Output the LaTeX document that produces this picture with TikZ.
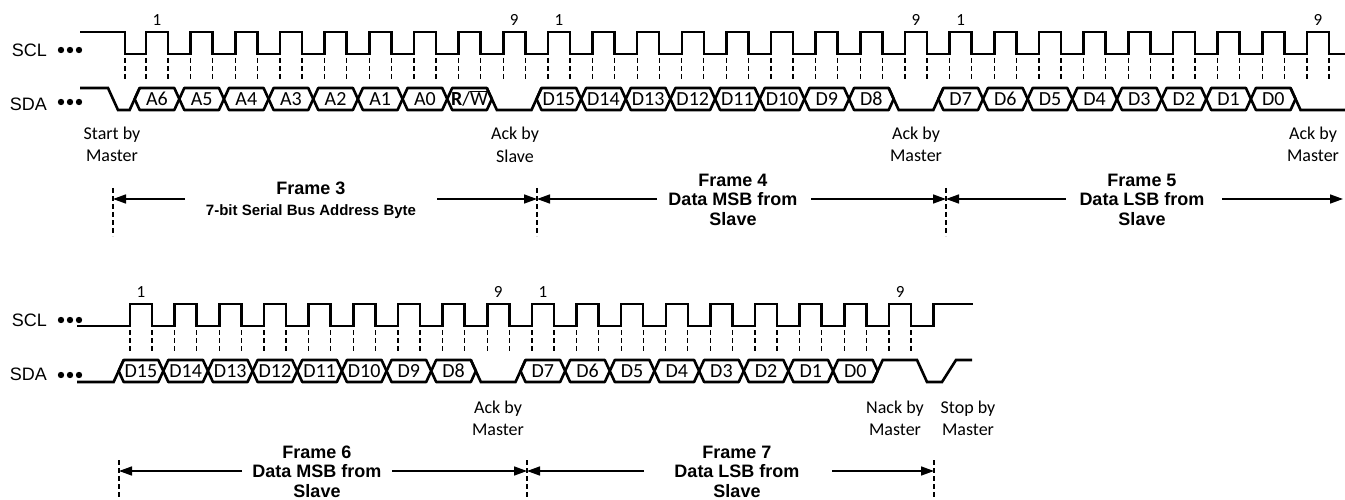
\documentclass[tikz,border=0pt]{standalone}
\usepackage{fontspec}
\setmainfont{Carlito}
\newfontfamily\arialf{Liberation Sans}
\usetikzlibrary{arrows.meta}
\newcommand\rwlabel{\textbf{R}/$\overline{\mbox{W}}$}
\begin{document}
\begin{tikzpicture}[x=1pt,y=-1pt,
  sig/.style={line width=2.6pt,line join=miter},
  hex/.style={line width=2.6pt,line join=round},
  tick/.style={line width=1.3pt,dash pattern=on 5pt off 3pt},
  fdash/.style={line width=1.2pt,dash pattern=on 5pt off 3pt},
  farrow/.style={line width=1.5pt,-{Triangle[length=13pt,width=9pt]}},
  bitlab/.style={font=\fontsize{20}{24}\selectfont,inner sep=0pt,text height=13pt,text depth=0pt},
  numlab/.style={font=\fontsize{17}{20}\selectfont,inner sep=0pt},
  siglab/.style={font=\arialf\fontsize{18}{21}\selectfont,inner sep=0pt,anchor=east},
  note/.style={font=\fontsize{18}{21}\selectfont,inner sep=0pt},
  ftitle/.style={font=\arialf\bfseries\fontsize{18}{21}\selectfont,inner sep=0pt},
  fsub/.style={font=\arialf\bfseries\fontsize{15}{18}\selectfont,inner sep=0pt},
]
\useasboundingbox (0,0) rectangle (1345,500);
\def\pd{44.65}

% ================= TOP ROW =================
\node[siglab] (sclA) at (47,50) {SCL};
\node[siglab] (sdaA) at (47,104) {SDA};
\foreach \x in {61,70,79} { \fill (\x,50) circle (3.2); \fill (\x,102) circle (3.2); }

% SCL
\draw[sig] (80,32) -- (125,32) -- (125,54)
  \foreach \n in {0,...,26} { -- ({146+\n*\pd},54) -- ({146+\n*\pd},32) -- ({168+\n*\pd},32) -- ({168+\n*\pd},54) } -- (1345,54);
% ticks
\draw[tick] (125,58) -- (125,80);
\foreach \n in {0,...,26} {
  \draw[tick] ({146+\n*\pd},58) -- ++(0,22);
  \draw[tick] ({168+\n*\pd},58) -- ++(0,22);
}
% pulse numbers
\foreach \n/\t [count=\i] in {0/1,8/9,9/1,17/9,18/1,26/9}
  \node[numlab] (numA\i) at ({157+\n*\pd},20) {\t};

% SDA
\draw[sig] (80,88) -- (108,88) -- (118,110) -- (129.65,110) -- (139.65,88);
\foreach \n/\t in {0/A6,1/A5,2/A4,3/A3,4/A2,5/A1,6/A0,7/\rwlabel,
    9/D15,10/D14,11/D13,12/D12,13/D11,14/D10,15/D9,16/D8,
    18/D7,19/D6,20/D5,21/D4,22/D3,23/D2,24/D1,25/D0} {
  \pgfmathsetmacro\a{134.65+\n*\pd}
  \pgfmathsetmacro\b{\a+\pd}
  \draw[hex] (\a,99) -- (\a+5,88) -- (\b-5,88) -- (\b,99) -- (\b-5,110) -- (\a+5,110) -- cycle;
  \node[bitlab] (bA\n) at ({(\a+\b)/2},99) {\t};
}
\draw[sig] ({134.65+8*\pd-5},88) -- ({134.65+8*\pd+5},110) -- ({134.65+9*\pd-5},110) -- ({134.65+9*\pd+5},88);
\draw[sig] ({134.65+17*\pd-5},88) -- ({134.65+17*\pd+5},110) -- ({134.65+18*\pd-5},110) -- ({134.65+18*\pd+5},88);
\draw[sig] ({134.65+26*\pd-5},88) -- ({134.65+26*\pd+5},110) -- (1345,110);

% notes
\node[note] (nA1) at (112,135) {Start by};
\node[note] (nA2) at (112,156) {Master};
\node[note] (nA3) at (515,135) {Ack by};
\node[note] (nA4) at (515,156) {Slave};
\node[note] (nA5) at (916,135) {Ack by};
\node[note] (nA6) at (916,156) {Master};
\node[note] (nA7) at (1313,135) {Ack by};
\node[note] (nA8) at (1313,156) {Master};

% frames
\foreach \x in {113,537,946} \draw[fdash] (\x,188) -- (\x,236);
\coordinate (bd1) at (113,199);
\coordinate (bd2) at (537,199);
\coordinate (bd3) at (946,199);
\coordinate (bd4) at (1343,199);
\node[ftitle] (f3t) at (311,188) {Frame 3};
\node[fsub] (f3s) at (311,212) {7-bit Serial Bus Address Byte};
\coordinate (f3L) at (185,199);
\coordinate (f3R) at (437,199);
\draw[farrow] (f3L) -- (bd1);
\draw[farrow] (f3R) -- (bd2);
\node[ftitle] (f4a) at (733,180) {Frame 4};
\node[ftitle] (f4b) at (733,199.5) {Data MSB from};
\node[ftitle] (f4c) at (733,219) {Slave};
\coordinate (f4L) at (657,199);
\coordinate (f4R) at (811,199);
\draw[farrow] (f4L) -- (bd2);
\draw[farrow] (f4R) -- (bd3);
\node[ftitle] (f5a) at (1142,180) {Frame 5};
\node[ftitle] (f5b) at (1142,199.5) {Data LSB from};
\node[ftitle] (f5c) at (1142,219) {Slave};
\coordinate (f5L) at (1066,199);
\coordinate (f5R) at (1222,199);
\draw[farrow] (f5L) -- (bd3);
\draw[farrow] (f5R) -- (bd4);

% ================= BOTTOM ROW =================
\node[siglab] (sclB) at (47,320) {SCL};
\node[siglab] (sdaB) at (47,374) {SDA};
\foreach \x in {61,70,79} { \fill (\x,320) circle (3.2); \fill (\x,375) circle (3.2); }

\draw[sig] (77,326)
  \foreach \k in {0,...,17} { -- ({130+\k*\pd},326) -- ({130+\k*\pd},304) -- ({152+\k*\pd},304) -- ({152+\k*\pd},326) }
  -- ({130+18*\pd},326) -- ({130+18*\pd},304) -- (973,304);
\foreach \k in {0,...,17} {
  \draw[tick] ({130+\k*\pd},330) -- ++(0,22);
  \draw[tick] ({152+\k*\pd},330) -- ++(0,22);
}
\foreach \k/\t [count=\i] in {0/1,8/9,9/1,17/9}
  \node[numlab] (numB\i) at ({141+\k*\pd},292) {\t};

\draw[sig] (77,382) -- (113.65,382) -- (123.65,360);
\foreach \k/\t in {0/D15,1/D14,2/D13,3/D12,4/D11,5/D10,6/D9,7/D8,
    9/D7,10/D6,11/D5,12/D4,13/D3,14/D2,15/D1,16/D0} {
  \pgfmathsetmacro\a{118.65+\k*\pd}
  \pgfmathsetmacro\b{\a+\pd}
  \draw[hex] (\a,371) -- (\a+5,360) -- (\b-5,360) -- (\b,371) -- (\b-5,382) -- (\a+5,382) -- cycle;
  \node[bitlab] (bB\k) at ({(\a+\b)/2},371) {\t};
}
\draw[sig] ({118.65+8*\pd-5},360) -- ({118.65+8*\pd+5},382) -- ({118.65+9*\pd-5},382) -- ({118.65+9*\pd+5},360);
\draw[sig] ({118.65+17*\pd-5},382) -- ({118.65+17*\pd+5},360) -- (917,360) -- (927,382) -- (942,382) -- (956,360) -- (972,360);

\node[note] (nB1) at (498,409) {Ack by};
\node[note] (nB2) at (498,430) {Master};
\node[note] (nB3) at (895,409) {Nack by};
\node[note] (nB4) at (895,430) {Master};
\node[note] (nB5) at (968,409) {Stop by};
\node[note] (nB6) at (968,430) {Master};

\foreach \x in {119,527,934} \draw[fdash] (\x,460) -- (\x,500);
\coordinate (be1) at (119,471);
\coordinate (be2) at (527,471);
\coordinate (be3) at (934,471);
\node[ftitle] (f6a) at (317,452) {Frame 6};
\node[ftitle] (f6b) at (317,471.5) {Data MSB from};
\node[ftitle] (f6c) at (317,491) {Slave};
\coordinate (f6L) at (242,471);
\coordinate (f6R) at (392,471);
\draw[farrow] (f6L) -- (be1);
\draw[farrow] (f6R) -- (be2);
\node[ftitle] (f7a) at (737,452) {Frame 7};
\node[ftitle] (f7b) at (737,471.5) {Data LSB from};
\node[ftitle] (f7c) at (737,491) {Slave};
\coordinate (f7L) at (644,471);
\coordinate (f7R) at (832,471);
\draw[farrow] (f7L) -- (be2);
\draw[farrow] (f7R) -- (be3);
\end{tikzpicture}
\end{document}
